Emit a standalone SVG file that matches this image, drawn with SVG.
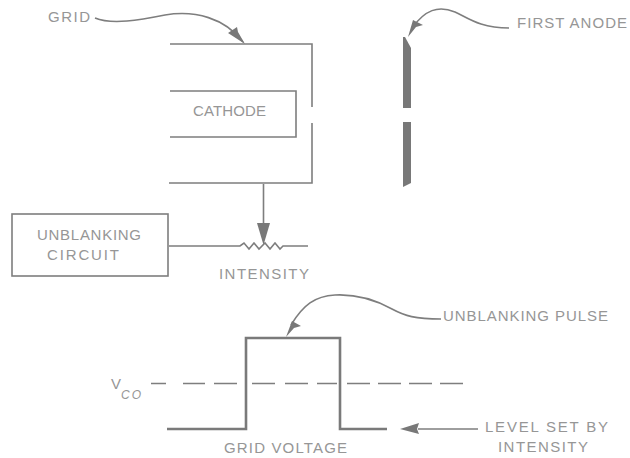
<svg xmlns="http://www.w3.org/2000/svg" width="630" height="458" viewBox="0 0 630 458">
<style>
text{font-family:"Liberation Sans",Arial,sans-serif;font-size:15px;fill:#969696;font-weight:400}
.l{fill:none;stroke:#7e7e7e;stroke-width:1.6}
.b{fill:none;stroke:#7a7a7a;stroke-width:2.6}
.f{fill:#787878;stroke:none}
</style>
<rect width="630" height="458" fill="#fff"/>
<g id="connectors">
<path class="l" d="M95 18C112 25 140 20 165 15C195 10 225 18 243 42"/>
<polygon class="f" points="245,44 228,33 237,27 238,32"/>
<path class="l" d="M509 28C480 28 468 18 455 12C438 5 425 10 412 28"/>
<polygon class="f" points="408,37 413,20 423,25 416,27"/>
<path class="l" d="M263.500 184V226"/>
<polygon class="f" points="263.500,245 257,223 270,223"/>
<path class="l" d="M169 246H240L244 243L249 249L254 243L259 249L265 243L270 249L275 243L280 249L283 246H308"/>
<path class="l" d="M441 319C415 319 405 316 392 309C372 298 355 294 335 295C315 296 303 305 291 325"/>
<polygon class="f" points="286,337 292,321 301,326 294,328"/>
<path class="l" d="M478 429H418"/>
<polygon class="f" points="400,429 419,423 417,429 419,434"/>
<path class="l" d="M151 383.500H166M183 383.500H205M214 383.500H237M252 383.500H275M285 383.500H308M317 383.500H337M347 383.500H370M378 383.500H401M409 383.500H432M440 383.500H463"/>
</g>
<g id="grid"><path class="l" d="M170 44H312V107M312 123V183H169"/></g>
<g id="cathode"><path class="l" d="M170 91H296V137H170"/><text x="193" y="116" textLength="73">CATHODE</text></g>
<g id="first-anode">
<polygon class="f" points="403,37 405,37 411,48 411,108 403,108"/>
<polygon class="f" points="403,122 411,122 411,183 403,187"/>
</g>
<g id="unblanking-circuit"><rect class="l" x="12" y="214" width="156" height="62"/><text x="37" y="240" textLength="104">UNBLANKING</text><text x="47" y="260" textLength="72">CIRCUIT</text></g>
<g id="waveform"><path class="b" d="M167 429H246V338H340V429H387"/></g>
<g id="labels">
<text x="48" y="22" textLength="42">GRID</text>
<text x="517" y="28" textLength="110">FIRST ANODE</text>
<text x="219" y="279" textLength="90">INTENSITY</text>
<text x="443" y="321" textLength="165">UNBLANKING PULSE</text>
<text x="111" y="389">V</text>
<text x="121" y="399" font-style="italic" style="font-size:12px" textLength="20">CO</text>
<text x="224" y="453" textLength="123">GRID VOLTAGE</text>
<text x="485" y="432" textLength="123">LEVEL SET BY</text>
<text x="498" y="452" textLength="90">INTENSITY</text>
</g>
</svg>
